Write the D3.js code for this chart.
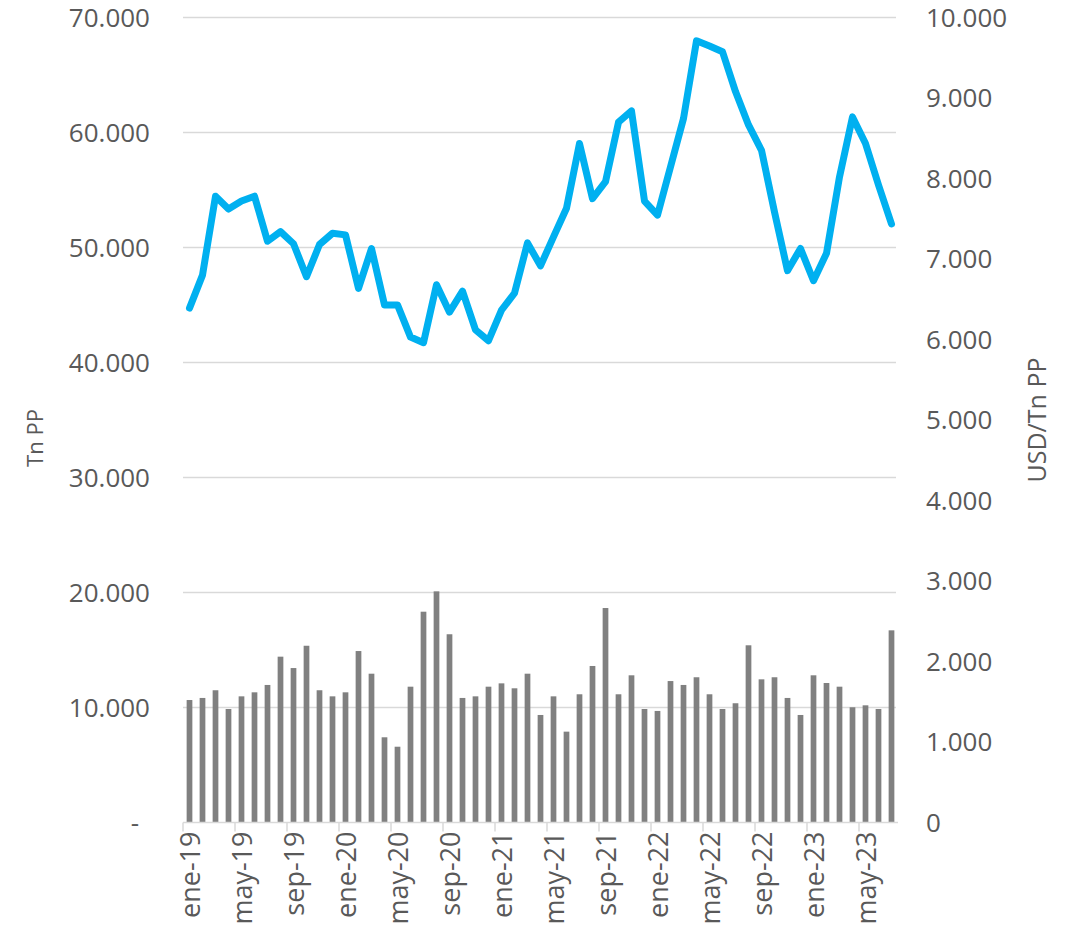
<!DOCTYPE html>
<html>
<head>
<meta charset="utf-8">
<script src="https://cdn.jsdelivr.net/npm/d3@7/dist/d3.min.js"></script>
<style>
  html, body { margin: 0; padding: 0; background: #ffffff; }
  svg { display: block; }
  .lbl { font-family: "Open Sans", "Noto Sans", sans-serif; fill: #595959; }
  .ttl { font-family: "Liberation Sans Narrow", "Open Sans", sans-serif; fill: #595959; }
</style>
</head>
<body>
<svg id="chart" width="1069" height="937"></svg>
<script>
// Monthly categories
const months = [
  "ene-19","feb-19","mar-19","abr-19","may-19","jun-19","jul-19","ago-19","sep-19","oct-19","nov-19","dic-19",
  "ene-20","feb-20","mar-20","abr-20","may-20","jun-20","jul-20","ago-20","sep-20","oct-20","nov-20","dic-20",
  "ene-21","feb-21","mar-21","abr-21","may-21","jun-21","jul-21","ago-21","sep-21","oct-21","nov-21","dic-21",
  "ene-22","feb-22","mar-22","abr-22","may-22","jun-22","jul-22","ago-22","sep-22","oct-22","nov-22","dic-22",
  "ene-23","feb-23","mar-23","abr-23","may-23","jun-23","jul-23"
];

// Volume (Tn PP), left axis
const tons = [
  10650, 10830, 11500, 9870, 10970, 11320, 11960, 14420, 13430, 15370, 11500, 10970,
  11320, 14910, 12940, 7410, 6590, 11810, 18330, 20100, 16370, 10830, 10970, 11810,
  12100, 11670, 12940, 9350, 10970, 7900, 11150, 13610, 18650, 11150, 12800, 9870,
  9700, 12300, 11960, 12630, 11150, 9870, 10370, 15410, 12450, 12630, 10830, 9350,
  12800, 12130, 11810, 10020, 10190, 9870, 16710
];

// Price (USD/Tn PP), right axis
const price = [
  6390, 6800, 7780, 7620, 7720, 7780, 7220, 7340, 7190, 6780, 7180, 7320,
  7300, 6635, 7130, 6430, 6430, 6030, 5960, 6680, 6340, 6600, 6120, 5985,
  6365, 6575, 7200, 6915, 7275, 7630, 8435, 7750, 7960, 8700, 8840, 7720,
  7545, 8145, 8745, 9710, 9645, 9575, 9080, 8665, 8350, 7585, 6855, 7130,
  6730, 7070, 8020, 8765, 8435, 7920, 7435
];

// Axis ticks
const leftTicks = [0, 10000, 20000, 30000, 40000, 50000, 60000, 70000];
const rightTicks = [0, 1000, 2000, 3000, 4000, 5000, 6000, 7000, 8000, 9000, 10000];
const xTickEvery = 4;

const svg = d3.select("#chart");
const plot = { left: 183, right: 898, top: 17.5, bottom: 822.5 };

const locale = d3.formatLocale({ decimal: ",", thousands: ".", grouping: [3], currency: ["", ""] });
const fmt = locale.format(",.0f");

const x = d3.scaleBand().domain(months).range([plot.left, plot.right]).paddingInner(0.56).paddingOuter(0.28);
const xEdge = d3.scaleLinear().domain([0, months.length]).range([plot.left, plot.right]);
const yL = d3.scaleLinear().domain([0, 70000]).range([plot.bottom, plot.top]);
const yR = d3.scaleLinear().domain([0, 10000]).range([plot.bottom, plot.top]);

// Horizontal gridlines
svg.append("g")
  .selectAll("line")
  .data(leftTicks.filter(d => d > 0))
  .join("line")
  .attr("x1", plot.left).attr("x2", plot.right - 2)
  .attr("y1", d => yL(d)).attr("y2", d => yL(d))
  .attr("stroke", "#d9d9d9").attr("stroke-width", 1.5);

// Volume bars
svg.append("g")
  .selectAll("rect")
  .data(tons)
  .join("rect")
  .attr("x", (d, i) => x(months[i]))
  .attr("width", x.bandwidth())
  .attr("y", d => yL(d))
  .attr("height", d => yL(0) - yL(d))
  .attr("fill", "#808080");

// Price line
const line = d3.line()
  .x((d, i) => x(months[i]) + x.bandwidth() / 2)
  .y(d => yR(d));

svg.append("path")
  .datum(price)
  .attr("d", line)
  .attr("fill", "none")
  .attr("stroke", "#00b0f0")
  .attr("stroke-width", 7)
  .attr("stroke-linejoin", "round")
  .attr("stroke-linecap", "round");

// Category axis: baseline, ticks at every fourth month boundary, rotated labels
svg.append("line")
  .attr("x1", plot.left).attr("x2", plot.right)
  .attr("y1", plot.bottom).attr("y2", plot.bottom)
  .attr("stroke", "#d9d9d9").attr("stroke-width", 1.5);

const tickIdx = d3.range(0, months.length + 1, xTickEvery);
svg.append("g")
  .selectAll("line")
  .data(tickIdx)
  .join("line")
  .attr("x1", d => xEdge(d)).attr("x2", d => xEdge(d))
  .attr("y1", plot.bottom).attr("y2", plot.bottom + 9)
  .attr("stroke", "#d9d9d9").attr("stroke-width", 1.5);

svg.append("g")
  .selectAll("text")
  .data(months.filter((d, i) => i % xTickEvery === 0))
  .join("text")
  .attr("class", "lbl")
  .attr("transform", d => `translate(${x(d) + x.bandwidth() / 2 + 10},${plot.bottom + 9}) rotate(-90)`)
  .attr("text-anchor", "end")
  .style("font-size", "27px")
  .text(d => d);

// Left value axis labels
svg.append("g")
  .selectAll("text")
  .data(leftTicks)
  .join("text")
  .attr("class", "lbl")
  .attr("x", d => d === 0 ? 139 : 150)
  .attr("y", d => yL(d) + 9)
  .attr("text-anchor", "end")
  .style("font-size", "26px")
  .text(d => d === 0 ? "-" : fmt(d));

// Right value axis labels
svg.append("g")
  .selectAll("text")
  .data(rightTicks)
  .join("text")
  .attr("class", "lbl")
  .attr("x", 926)
  .attr("y", d => yR(d) + 9)
  .attr("text-anchor", "start")
  .style("font-size", "26px")
  .text(d => fmt(d));

// Axis titles
svg.append("text")
  .attr("class", "ttl")
  .attr("transform", `translate(43,${(plot.top + plot.bottom) / 2 + 18}) rotate(-90)`)
  .attr("text-anchor", "middle")
  .style("font-size", "22px")
  .text("Tn PP");

svg.append("text")
  .attr("class", "ttl")
  .attr("transform", `translate(1046,${(plot.top + plot.bottom) / 2}) rotate(-90)`)
  .attr("text-anchor", "middle")
  .style("font-size", "25px")
  .text("USD/Tn PP");
</script>
</body>
</html>
